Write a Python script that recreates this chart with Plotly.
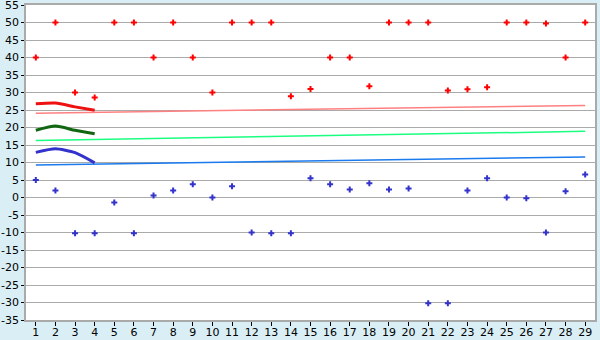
import plotly.graph_objects as go

days = list(range(1, 30))
high_pts = [40, 50, 30, 28.6, 50, 50, 40, 50, 40, 30, 50, 50, 50, 28.9, 31, 40, 40, 31.8, 50,
            50, 50, 30.6, 30.9, 31.5, 50, 50, 49.7, 40, 50]
low_pts = [5, 2, -10.2, -10.2, -1.4, -10.2, 0.6, 2, 3.8, 0, 3.2, -10, -10.2, -10.2, 5.5, 3.8, 2.3, 4.1, 2.3,
           2.6, -30.2, -30.2, 2, 5.5, 0, -0.2, -10, 1.8, 6.6]

curve_x = [1, 2, 3, 4]
curve_high = [26.8, 27.0, 25.9, 24.9]
curve_mid = [19.2, 20.4, 19.2, 18.2]
curve_low = [12.9, 13.9, 12.8, 9.9]

trend_x = [1, 29]
trend_high = [24.1, 26.3]
trend_mid = [16.3, 18.9]
trend_low = [9.3, 11.6]

y_ticks = [55, 50, 45, 40, 35, 30, 25, 20, 15, 10, 5, 0, -5, -10, -15, -20, -25, -30, -35]

fig = go.Figure()
fig.add_trace(go.Scatter(x=trend_x, y=trend_high, mode="lines", line=dict(color="#ff8080", width=1.5)))
fig.add_trace(go.Scatter(x=trend_x, y=trend_mid, mode="lines", line=dict(color="#1aff80", width=1.5)))
fig.add_trace(go.Scatter(x=trend_x, y=trend_low, mode="lines", line=dict(color="#1a7aee", width=1.5)))
fig.add_trace(go.Scatter(x=curve_x, y=curve_high, mode="lines",
                         line=dict(color="#ee1111", width=3, shape="spline", smoothing=0.6)))
fig.add_trace(go.Scatter(x=curve_x, y=curve_mid, mode="lines",
                         line=dict(color="#116611", width=3, shape="spline", smoothing=0.6)))
fig.add_trace(go.Scatter(x=curve_x, y=curve_low, mode="lines",
                         line=dict(color="#3333cc", width=3, shape="spline", smoothing=0.6)))
fig.add_trace(go.Scatter(x=days, y=high_pts, mode="markers",
                         marker=dict(symbol="cross", size=5, color="#ff0000", line=dict(width=0))))
fig.add_trace(go.Scatter(x=days, y=low_pts, mode="markers",
                         marker=dict(symbol="cross", size=5, color="#3333cc", line=dict(width=0))))

fig.update_layout(
    width=600, height=340,
    margin=dict(l=26, r=5, t=5, b=20, autoexpand=False),
    paper_bgcolor="#d9eef5",
    plot_bgcolor="#ffffff",
    showlegend=False,
    font=dict(family="DejaVu Sans", size=11, color="#000000"),
)
fig.update_xaxes(
    range=[0.5, 29.5], tickmode="array", tickvals=days, ticktext=[str(d) for d in days],
    showgrid=False, zeroline=False, automargin=False,
    showline=True, linecolor="#aaaaaa", linewidth=1.5, mirror=True,
    ticks="outside", ticklen=4, tickcolor="#000000", tickwidth=1,
    ticklabelstandoff=-3, ticklabeloverflow="allow",
)
fig.update_yaxes(
    range=[-35, 55], tickmode="array", tickvals=y_ticks, ticktext=[str(v) for v in y_ticks],
    automargin=False,
    showgrid=True, gridcolor="#aaaaaa", gridwidth=1, zeroline=False,
    showline=True, linecolor="#aaaaaa", linewidth=1.5, mirror=True,
    ticks="outside", ticklen=3, tickcolor="#000000", tickwidth=1,
    ticklabeloverflow="allow",
)
fig.write_html("out.html")
